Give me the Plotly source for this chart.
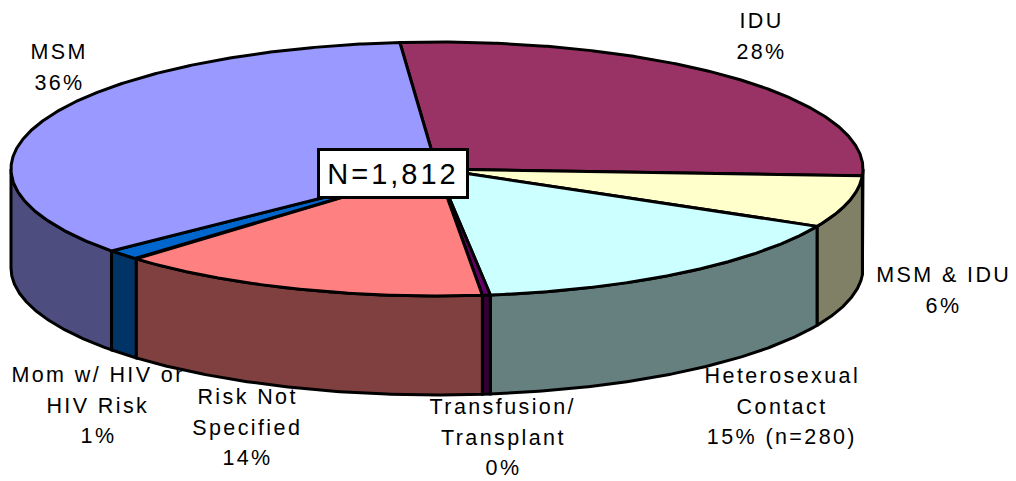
import numpy as np
import plotly.graph_objects as go

# Data (slice sizes in percent of cases, clockwise from the MSM/IDU boundary)
categories = ["IDU", "MSM & IDU", "Heterosexual Contact", "Transfusion/ Transplant",
              "Risk Not Specified", "Mom w/ HIV or HIV Risk", "MSM"]
values = [27.25, 6.6, 15.54, 0.3, 14.18, 1.36, 34.77]
top_colors = ["#993366", "#FFFFCC", "#CCFFFF", "#660066", "#FF8080", "#0066CC", "#9999FF"]
side_colors = ["#4D1A33", "#808066", "#668080", "#330033", "#804040", "#003366", "#4D4D80"]
label_lines = [["IDU", "28%"], ["MSM & IDU", "6%"], ["Heterosexual", "Contact", "15% (n=280)"],
               ["Transfusion/", "Transplant", "0%"], ["Risk Not", "Specified", "14%"],
               ["Mom w/ HIV or", "HIV Risk", "1%"], ["MSM", "36%"]]
total_label = "N=1,812"

# Layout geometry
W, H = 1016, 481
CX, CY, RX, RY, DEPTH = 437, 169, 426, 127, 99
START = -5.0
LABEL_POS = [(761, 21), (943, 275), (782, 376), (503, 407), (247, 397), (98, 375), (59, 52)]
LINE_STEP = 30.7
FONT = "Liberation Sans, Arial, sans-serif"


def ell(t_deg, dy=0):
    t = np.radians(t_deg)
    return CX + RX * np.sin(t), CY - RY * np.cos(t) + dy


fig = go.Figure()
edges = START + np.concatenate([[0], np.cumsum(values)]) * 360 / sum(values)
spans = list(zip(edges[:-1], edges[1:]))

# Side walls: only the part of the rim facing the viewer
for (a, b), col in zip(spans, side_colors):
    a2, b2 = max(a, 90), min(b, 270)
    if b2 <= a2:
        continue
    ts = np.linspace(a2, b2, 120)
    x1, y1 = ell(ts)
    x2, y2 = ell(ts[::-1], DEPTH)
    fig.add_trace(go.Scatter(x=np.r_[x1, x2, x1[0]], y=np.r_[y1, y2, y1[0]], mode="lines",
                             fill="toself", fillcolor=col,
                             line=dict(color="#000000", width=3), hoverinfo="skip"))

# Top faces
for (a, b), col in zip(spans, top_colors):
    ts = np.linspace(a, b, 300)
    x1, y1 = ell(ts)
    fig.add_trace(go.Scatter(x=np.r_[CX, x1, CX], y=np.r_[CY, y1, CY], mode="lines",
                             fill="toself", fillcolor=col,
                             line=dict(color="#000000", width=3), hoverinfo="skip"))

# Labels: one annotation per line so the line pitch matches
for lines, (lx, ly) in zip(label_lines, LABEL_POS):
    for i, txt in enumerate(lines):
        fig.add_annotation(x=lx, y=ly + i * LINE_STEP, text=txt, showarrow=False,
                           xanchor="center", yanchor="middle",
                           font=dict(family=FONT, size=21.5, color="#000000"))

fig.add_annotation(x=393, y=173.5, text=total_label, showarrow=False, xanchor="center",
                   yanchor="middle", width=146, height=45, bgcolor="#FFFFFF",
                   bordercolor="#000000", borderwidth=3, borderpad=0,
                   font=dict(family=FONT, size=29, color="#000000"))

fig.update_layout(width=W, height=H, margin=dict(l=0, r=0, t=0, b=0), showlegend=False,
                  paper_bgcolor="#FFFFFF", plot_bgcolor="#FFFFFF",
                  xaxis=dict(range=[0, W], visible=False, fixedrange=True),
                  yaxis=dict(range=[H, 0], visible=False, fixedrange=True))

page_js = ("document.body.style.margin='0';"
           "document.querySelectorAll('.annotation-text').forEach(function(t){"
           "t.style.letterSpacing=parseFloat(t.style.fontSize)>25?'3px':'2.4px';});")
fig.write_html("out.html", post_script=page_js,
               config={"displayModeBar": False, "responsive": False})
